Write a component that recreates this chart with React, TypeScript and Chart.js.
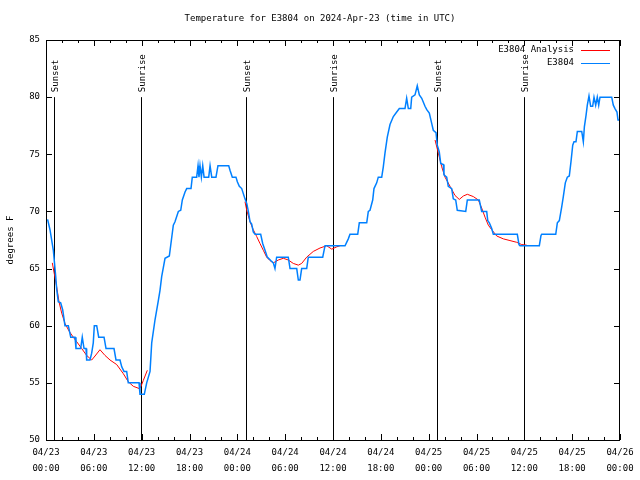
import React, { useEffect, useRef } from 'react';
import { Chart, registerables } from 'chart.js';

Chart.register(...registerables);

const TITLE = 'Temperature for E3804 on 2024-Apr-23 (time in UTC)';
const Y_LABEL = 'degrees F';
const SERIES_NAMES = ['E3804 Analysis', 'E3804'];
const SERIES_COLORS = ['#ff0000', '#0080ff'];
const START_MONTH = '04';
const START_DAY = 23;
const X_MIN = 0;
const X_MAX = 72;
const X_STEP = 6;
const X_MINOR = 2;
const Y_MIN = 50;
const Y_MAX = 85;
const Y_STEP = 5;

const SUNSET_HOURS = [1.04, 25.09, 49.09];
const SUNRISE_HOURS = [11.96, 36.04, 60.0];
const SUN_LINE_TOP = 80;

// E3804 observations (hours since 04/23 00:00 UTC, degrees F)
const OBS_HOURS = [
  0.2, 0.5, 0.92, 1.22, 1.34, 1.54, 1.84, 2.09, 2.38, 2.8, 3.1, 3.64, 3.76, 4.35, 4.55, 4.77, 5.02, 5.1, 5.52, 5.73,
  5.93, 6.06, 6.36, 6.61, 7.28, 7.53, 8.53, 8.78, 9.28, 9.5, 9.78, 10.12, 10.32, 11.67, 11.79, 12.33, 12.63, 13.05,
  13.26, 13.67, 14.09, 14.3, 14.51, 14.93, 15.47, 15.97, 16.18, 16.6, 16.9, 17.1, 17.44, 17.65, 18.19, 18.35, 18.9,
  19.07, 19.19, 19.32, 19.49, 19.66, 19.83, 20.41, 20.58, 20.79, 21.32, 21.57, 22.92, 23.08, 23.37, 23.83, 24.0,
  24.25, 24.55, 24.96, 25.18, 25.38, 25.59, 25.8, 26.0, 26.22, 26.93, 27.18, 27.47, 27.76, 28.19, 28.51, 28.72,
  28.93, 30.39, 30.61, 31.45, 31.65, 31.86, 32.07, 32.7, 32.9, 34.71, 35.0, 37.51, 37.92, 38.13, 39.1, 39.3, 40.23,
  40.43, 40.64, 40.98, 41.14, 41.48, 41.68, 42.11, 42.31, 42.52, 42.81, 43.15, 43.57, 43.99, 44.32, 45.03, 45.24,
  45.45, 45.75, 45.87, 46.29, 46.57, 46.83, 47.13, 47.54, 47.76, 48.08, 48.38, 48.58, 48.92, 49.08, 49.33, 49.51,
  49.84, 49.92, 50.26, 50.46, 50.89, 51.09, 51.39, 51.59, 52.65, 52.85, 54.35, 54.65, 55.28, 55.41, 55.61, 55.91,
  56.11, 59.12, 59.33, 59.46, 61.88, 62.09, 62.18, 63.94, 64.14, 64.39, 64.69, 64.89, 65.14, 65.39, 65.64, 65.86,
  66.07, 66.23, 66.48, 66.65, 67.2, 67.4, 67.53, 67.74, 67.9, 68.11, 68.32, 68.57, 68.74, 68.95, 69.15, 69.33,
  69.49, 70.96, 71.16, 71.37, 71.62, 71.75, 72.0,
];
const OBS_TEMPS = [
  69.3, 68.4, 66.6, 64.3, 63.2, 62.1, 62, 61.4, 60, 60, 59, 59, 58, 58, 59, 58, 58, 57, 57, 57.6,
  58.5, 60, 60, 59, 59, 58, 58, 57, 57, 56.4, 56, 56, 55, 55, 54, 54, 55, 56,
  58.5, 60.5, 62.2, 63.1, 64.3, 65.9, 66.1, 68.8, 69.1, 70, 70.1, 71, 71.7, 72, 72, 73, 73,
  74, 73, 74, 73, 74, 73, 73, 74, 73, 73, 74, 74, 73.6, 73, 73, 72.6,
  72.2, 72, 71.1, 70.7, 70, 69.1, 68.9, 68.2, 68, 68, 67.2, 66.6, 66, 65.7, 65.5, 65,
  66, 66, 65, 65, 64, 64, 65, 65, 66, 66, 67, 67, 67.6, 68, 68, 69, 69,
  70, 70.1, 71, 72, 72.5, 73, 73, 73.9, 75.1, 76.5, 77.6, 78.3, 78.7, 79, 79, 79.9,
  79, 79, 80, 80.2, 81, 80.2, 79.9, 79.2, 78.9, 78.6, 77.7, 77.1, 76.9, 75.8, 75.2, 74.2,
  74.1, 73.2, 73, 72.2, 72, 71.1, 71, 70.1, 70, 71, 71, 70, 70, 69.2, 69, 68.5,
  68, 68, 67.1, 67, 67, 67.9, 68, 68, 69, 69.2, 70.4, 71.3, 72.5, 73, 73.1, 74.4,
  75.8, 76.1, 76.1, 77, 77, 76.1, 77.4, 78.4, 79.3, 80.1, 79.2, 79.2, 80, 79.3, 80, 79.3,
  80, 80, 79.3, 79, 78.7, 78, 78,
];

// E3804 Analysis (nighttime segments; null separates segments)
const ANA_HOURS = [
  0.79, 1.0, 1.34, 1.63, 1.97, 2.38, 2.92, 3.42, 3.85, 4.48, 5.1, 5.73, 6.15, 6.77, 7.4, 8.03, 8.87, 9.7, 10.32,
  10.95, 11.7, 11.92, 12.2, 12.71,
  18.0,
  24.96, 25.18, 25.59, 26.0, 26.43, 26.84, 27.26, 27.68, 28.1, 28.51, 29.14, 29.77, 30.39, 31.02, 31.65, 32.07,
  32.7, 33.53, 34.37, 35.21, 35.84, 36.47, 36.88,
  42.0,
  48.8, 49.21, 49.64, 50.05, 50.68, 51.3, 51.84, 52.35, 52.85, 53.6, 54.23, 54.65, 55.07, 55.48, 55.91, 56.54,
  57.36, 58.2, 59.04, 59.67, 60.3,
];
const ANA_TEMPS = [
  65.5, 64.7, 63.4, 62.1, 61.1, 60.2, 59.5, 59, 58.6, 58, 57.4, 57, 57.35, 57.9, 57.4, 57, 56.6, 55.8, 55.1,
  54.7, 54.5, 54.7, 55.2, 56.1,
  null,
  70.85, 70.1, 69.1, 68.4, 67.8, 67.2, 66.6, 66.0, 65.7, 65.5, 65.75, 65.9, 65.75, 65.45, 65.3, 65.45,
  66, 66.5, 66.8, 67, 66.7, 66.9, 67,
  null,
  76.25, 75.1, 73.9, 73, 72.2, 71.4, 71.05, 71.35, 71.5, 71.3, 71, 70.3, 69.5, 68.8, 68.4, 67.85,
  67.6, 67.45, 67.3, 67.1, 67.05,
];

const FONT = '"DejaVu Sans Mono", "Liberation Mono", monospace';

function tickLabel(v: number): string[] {
  const day = START_DAY + Math.floor(v / 24);
  const hour = v % 24;
  const hh = String(hour).padStart(2, '0');
  return [`${START_MONTH}/${String(day).padStart(2, '0')}`, `${hh}:00`];
}

const decorPlugin = {
  id: 'gnuplotDecor',
  beforeDatasetsDraw(chart: any) {
    const { ctx, scales } = chart;
    const xs = scales.x;
    const ys = scales.y;
    ctx.save();
    ctx.strokeStyle = '#000';
    ctx.lineWidth = 1;
    ctx.fillStyle = '#000';
    ctx.font = `9px ${FONT}`;
    const yTop = ys.getPixelForValue(SUN_LINE_TOP);
    const yBot = ys.getPixelForValue(Y_MIN);
    const drawSun = (h: number, label: string) => {
      const x = Math.round(xs.getPixelForValue(h)) + 0.5;
      ctx.beginPath();
      ctx.moveTo(x, yTop);
      ctx.lineTo(x, yBot);
      ctx.stroke();
      ctx.save();
      ctx.translate(x, yTop - 5);
      ctx.rotate(-Math.PI / 2);
      ctx.textAlign = 'left';
      ctx.textBaseline = 'middle';
      ctx.fillText(label, 0, 1);
      ctx.restore();
    };
    SUNSET_HOURS.forEach((h) => drawSun(h, 'Sunset'));
    SUNRISE_HOURS.forEach((h) => drawSun(h, 'Sunrise'));
    ctx.restore();
  },
  afterDraw(chart: any) {
    const { ctx, scales, chartArea } = chart;
    const xs = scales.x;
    const ys = scales.y;
    const { left, right, top, bottom } = chartArea;
    ctx.save();
    ctx.strokeStyle = '#000';
    ctx.lineWidth = 1;
    // border box
    ctx.strokeRect(Math.round(left) + 0.5, Math.round(top) + 0.5, Math.round(right - left) - 1, Math.round(bottom - top));
    // ticks (inward, mirrored)
    ctx.beginPath();
    for (let v = X_MIN; v <= X_MAX; v += X_MINOR) {
      const x = Math.round(xs.getPixelForValue(v)) + 0.5;
      const len = v % X_STEP === 0 ? 6 : 3;
      ctx.moveTo(x, bottom);
      ctx.lineTo(x, bottom - len);
      ctx.moveTo(x, top);
      ctx.lineTo(x, top + len);
    }
    for (let v = Y_MIN; v <= Y_MAX; v += Y_STEP) {
      const y = Math.round(ys.getPixelForValue(v)) + 0.5;
      ctx.moveTo(left, y);
      ctx.lineTo(left + 6, y);
      ctx.moveTo(right, y);
      ctx.lineTo(right - 6, y);
    }
    ctx.stroke();
    // title
    ctx.fillStyle = '#000';
    ctx.font = `9px ${FONT}`;
    ctx.textAlign = 'center';
    ctx.textBaseline = 'middle';
    ctx.fillText(TITLE, chart.width / 2, 19);
    // legend
    ctx.textAlign = 'right';
    const legX = right - 46;
    SERIES_NAMES.forEach((name, i) => {
      const ly = top + 10 + i * 13;
      ctx.fillStyle = '#000';
      ctx.fillText(name, legX, ly);
      ctx.strokeStyle = SERIES_COLORS[i];
      ctx.lineWidth = 1;
      ctx.beginPath();
      ctx.moveTo(legX + 7, Math.round(ly) + 0.5);
      ctx.lineTo(legX + 36, Math.round(ly) + 0.5);
      ctx.stroke();
    });
    ctx.restore();
  },
};

export default function App() {
  const canvasRef = useRef<HTMLCanvasElement | null>(null);

  useEffect(() => {
    const canvas = canvasRef.current;
    if (!canvas) return;
    const obs = OBS_HOURS.map((h, i) => ({ x: h, y: OBS_TEMPS[i] }));
    const ana = ANA_HOURS.map((h, i) => ({ x: h, y: ANA_TEMPS[i] }));
    const chart = new Chart(canvas, {
      type: 'line',
      data: {
        datasets: [
          {
            label: SERIES_NAMES[1],
            data: obs,
            borderColor: SERIES_COLORS[1],
            borderWidth: 1.5,
            pointRadius: 0,
            tension: 0,
            fill: false,
          },
          {
            label: SERIES_NAMES[0],
            data: ana as any,
            borderColor: SERIES_COLORS[0],
            borderWidth: 1,
            pointRadius: 0,
            tension: 0,
            fill: false,
            spanGaps: false,
          },
        ],
      },
      options: {
        animation: false,
        responsive: false,
        devicePixelRatio: 1,
        events: [],
        layout: { padding: { top: 40, right: 20, bottom: 0, left: 0 } },
        plugins: {
          legend: { display: false },
          title: { display: false },
          tooltip: { enabled: false },
        },
        scales: {
          x: {
            type: 'linear',
            min: X_MIN,
            max: X_MAX,
            grid: { display: false, drawTicks: false },
            border: { display: false },
            ticks: {
              stepSize: X_STEP,
              autoSkip: false,
              maxRotation: 0,
              minRotation: 0,
              padding: 5,
              color: '#000',
              font: { family: FONT, size: 9, lineHeight: 16 / 9 },
              callback: (v: any) => tickLabel(Number(v)),
            },
            afterFit: (s: any) => {
              s.height = 40;
            },
          },
          y: {
            type: 'linear',
            min: Y_MIN,
            max: Y_MAX,
            grid: { display: false, drawTicks: false },
            border: { display: false },
            ticks: {
              stepSize: Y_STEP,
              padding: 6,
              color: '#000',
              font: { family: FONT, size: 9 },
            },
            title: {
              display: true,
              text: Y_LABEL,
              color: '#000',
              font: { family: FONT, size: 9 },
              padding: { top: 5, bottom: 0 },
            },
            afterFit: (s: any) => {
              s.width = 46;
            },
          },
        },
      },
      plugins: [decorPlugin],
    });
    return () => chart.destroy();
  }, []);

  return (
    <div style={{ position: 'fixed', left: 0, top: 0, width: 640, height: 480, background: '#fff' }}>
      <canvas ref={canvasRef} width={640} height={480} style={{ display: 'block' }} />
    </div>
  );
}
